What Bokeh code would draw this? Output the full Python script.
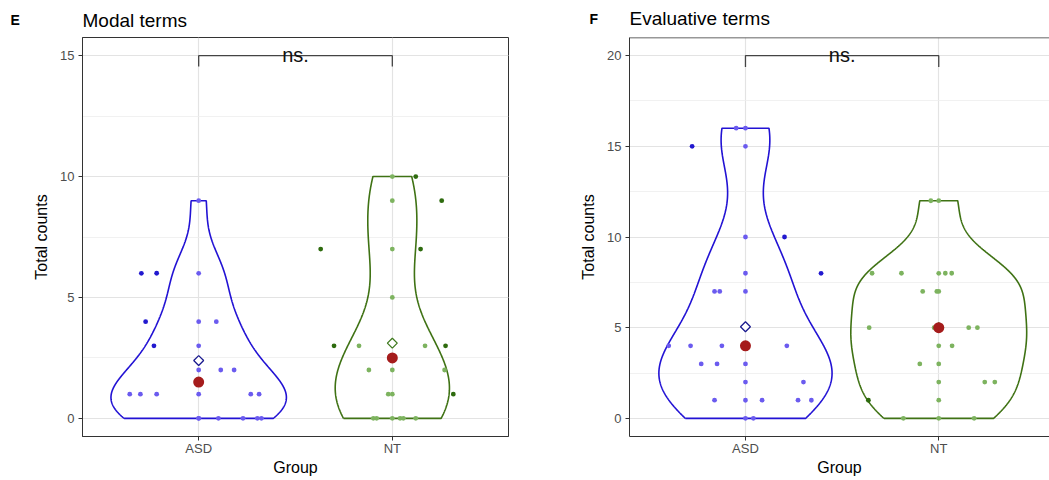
import numpy as np
from bokeh.plotting import figure
from bokeh.layouts import row, column
from bokeh.models import Range1d, FixedTicker, SingleIntervalTicker, Span
from bokeh.embed import file_html
from bokeh.resources import INLINE
from bokeh.core.properties import value

# ---------------- data ----------------
groups = ["ASD", "NT"]
panel_letters = ["E", "F"]
panel_titles = ["Modal terms", "Evaluative terms"]
y_label = "Total counts"
x_label = "Group"
sig_label = "ns."

modal_asd_y = [9, 6, 6, 6, 4, 4, 4, 3, 3, 2, 2, 2, 1, 1, 1, 1, 1, 1, 0, 0, 0, 0, 0, 0]
modal_asd_dx = [0, -0.296, -0.217, 0, -0.274, 0, 0.091, -0.231, 0, 0, 0.114, 0.183,
                -0.356, -0.301, -0.217, 0, 0.269, 0.312, 0, 0.102, 0.229, 0.303, 0.324, 0]
modal_asd_dark = [0, 1, 1, 0, 1, 0, 0, 1, 0, 0, 0, 0, 0, 0, 0, 0, 0, 0, 0, 0, 0, 0, 0, 0]
modal_nt_y = [10, 10, 9, 9, 7, 7, 7, 5, 3, 3, 3, 3, 2, 2, 2, 1, 1, 1, 0, 0, 0, 0, 0, 0]
modal_nt_dx = [0, 0.121, 0, 0.255, -0.370, 0, 0.146, 0, -0.301, -0.172, 0.169, 0.275,
               -0.121, 0, 0.270, -0.021, 0, 0.315, -0.098, -0.081, 0, 0.040, 0.057, 0.121]
modal_nt_dark = [0, 1, 0, 1, 1, 0, 1, 0, 1, 0, 0, 1, 0, 0, 0, 0, 0, 1, 0, 0, 0, 0, 0, 0]
modal_mean = [2.39, 3.11]
modal_median = [1.5, 2.5]

eval_asd_y = [16, 16, 15, 15, 10, 10, 8, 8, 7, 7, 7, 4, 4, 4, 4, 4, 3, 3, 3, 2, 2,
              1, 1, 1, 1, 1, 0, 0]
eval_asd_dx = [-0.048, 0, -0.276, 0, 0, 0.202, 0, 0.391, -0.160, -0.133, 0,
               -0.397, -0.284, -0.122, 0, 0.214, -0.229, -0.147, 0, 0, 0.300,
               -0.160, 0, 0.086, 0.272, 0.341, 0, 0.041]
eval_asd_dark = [0, 0, 1, 0, 0, 1, 0, 1, 0, 0, 0, 0, 0, 0, 0, 0, 0, 0, 0, 0, 0,
                 0, 0, 0, 0, 0, 0, 0]
eval_nt_y = [12, 12, 8, 8, 8, 8, 8, 7, 7, 7, 5, 5, 5, 5, 5, 4, 4, 3, 3, 2, 2, 2, 1, 1, 0, 0, 0]
eval_nt_dx = [-0.041, 0, -0.345, -0.193, 0, 0.034, 0.067, -0.083, -0.010, 0,
              -0.360, -0.024, 0, 0.155, 0.200, 0, 0.069, -0.098, 0, 0, 0.238, 0.290,
              -0.364, 0, -0.183, 0, 0.183]
eval_nt_dark = [0, 0, 0, 0, 0, 0, 0, 0, 0, 0, 0, 0, 0, 0, 0, 0, 0, 0, 0, 0, 0, 0,
                1, 0, 0, 0, 0]
eval_mean = [5.05, 5.0]
eval_median = [4, 5]

bracket_y = [15, 20]

# ---------------- styles ----------------
FONT = "Liberation Sans"
line_cols = ["#2212d4", "#3f7214"]
light_cols = ["#6b5bef", "#7db35f"]
dark_cols = ["#2219cf", "#2e6b0e"]
diamond_cols = ["#1b1b8f", "#3f7a1e"]
RED = "#a51c1c"
HEADER_H = 35


def kde_outline(vals, n=512):
    v = np.asarray(vals, float)
    sd = v.std(ddof=1)
    q75, q25 = np.percentile(v, [75, 25])
    iqr = q75 - q25
    lo = min(sd, iqr / 1.34) if iqr > 0 else sd
    bw = 0.9 * lo * len(v) ** -0.2
    ys = np.linspace(v.min(), v.max(), n)
    d = np.exp(-0.5 * ((ys[:, None] - v[None, :]) / bw) ** 2).sum(1) / (len(v) * bw * np.sqrt(2 * np.pi))
    return ys, d


def make_header(width, letter, letter_x, letter_y, title, title_x, title_y):
    h = figure(width=width, height=HEADER_H, output_backend="svg", toolbar_location=None,
               x_range=Range1d(0, width), y_range=Range1d(HEADER_H, 0),
               x_axis_type=None, y_axis_type=None, min_border=0)
    h.outline_line_color = None
    h.grid.visible = False
    h.background_fill_color = "white"
    h.border_fill_color = "white"
    h.text([letter_x], [letter_y], text=[letter], text_font=value(FONT), text_font_size="14px",
           text_font_style="bold", text_baseline="alphabetic", text_color="black")
    h.text([title_x], [title_y], text=[title], text_font=value(FONT), text_font_size="19px",
           text_baseline="alphabetic", text_color="black")
    return h


def make_panel(ys_list, dxs_list, darks_list, means, medians,
               yr, half_widths, width, bl, br, bt, bb, xr, bracket, drop, outline):
    p = figure(width=width, height=480 - HEADER_H, output_backend="svg", toolbar_location=None,
               x_range=Range1d(*xr), y_range=Range1d(*yr),
               min_border_left=bl, min_border_right=br, min_border_top=bt, min_border_bottom=bb)
    p.background_fill_color = "white"
    p.border_fill_color = "white"
    if outline:
        p.outline_line_color = "#333333"
        p.outline_line_width = 1
    else:
        p.outline_line_color = None
        p.add_layout(Span(location=yr[1], dimension="width", line_color="#333333", line_width=1.5))

    # grids
    p.xgrid.ticker = FixedTicker(ticks=[1, 2])
    p.xgrid.grid_line_color = "#e3e3e3"
    p.xgrid.grid_line_width = 1.2
    p.ygrid.grid_line_color = "#e3e3e3"
    p.ygrid.grid_line_width = 1.2
    p.ygrid.minor_grid_line_color = "#ededed"
    p.ygrid.minor_grid_line_width = 0.8

    # axes
    p.yaxis.ticker = SingleIntervalTicker(interval=5, num_minor_ticks=2)
    p.xaxis.ticker = FixedTicker(ticks=[1, 2])
    p.xaxis.major_label_overrides = {i + 1: g for i, g in enumerate(groups)}
    for ax in (p.xaxis[0], p.yaxis[0]):
        ax.axis_line_color = "#333333"
        ax.major_tick_line_color = "#333333"
        ax.major_tick_out = 4
        ax.major_tick_in = 0
        ax.minor_tick_line_color = None
        ax.major_label_text_font = FONT
        ax.major_label_text_font_size = "13px"
        ax.major_label_text_color = "#4d4d4d"
        ax.axis_label_text_font = FONT
        ax.axis_label_text_font_size = "16px"
        ax.axis_label_text_font_style = "normal"
        ax.axis_label_text_color = "black"
    p.xaxis.axis_label = x_label
    p.yaxis.axis_label = y_label
    p.xaxis.major_label_standoff = 0
    p.xaxis.axis_label_standoff = 0
    p.yaxis.major_label_standoff = 4
    p.yaxis.axis_label_standoff = 7

    for gi in range(2):
        cx = gi + 1
        ys, d = kde_outline(ys_list[gi])
        hw = d / d.max() * half_widths[gi]
        px = np.concatenate([cx - hw, (cx + hw)[::-1], [cx - hw[0]]])
        py = np.concatenate([ys, ys[::-1], [ys[0]]])
        p.line(px, py, line_color=line_cols[gi], line_width=1.6)

    for gi in range(2):
        cx = gi + 1
        xs = [cx + dx for dx in dxs_list[gi]]
        cols = [dark_cols[gi] if dk else light_cols[gi] for dk in darks_list[gi]]
        p.scatter(xs, ys_list[gi], size=4.8, color=cols, line_color=None)

    for gi in range(2):
        cx = gi + 1
        p.scatter([cx], [means[gi]], marker="square", angle=np.pi / 4, size=7,
                  fill_color="white", line_color=diamond_cols[gi], line_width=1.3)
        p.scatter([cx], [medians[gi]], size=11, color=RED, line_color=None)

    # significance bracket
    p.line([1, 1, 2, 2], [bracket - drop, bracket, bracket, bracket - drop],
           line_color="#444444", line_width=1.3)
    p.text([1.5], [bracket], text=[sig_label], text_font=value(FONT), text_font_size="20px",
           text_align="center", text_baseline="alphabetic", y_offset=-1, text_color="#111111")
    return p


h1 = make_header(560, panel_letters[0], 10, 19, panel_titles[0], 82, 19.5)
h2 = make_header(489, panel_letters[1], 29, 18, panel_titles[1], 69, 17.5)

p1 = make_panel([modal_asd_y, modal_nt_y], [modal_asd_dx, modal_nt_dx],
                [modal_asd_dark, modal_nt_dark], modal_mean, modal_median,
                (-0.75, 15.75), [0.453, 0.295], 560, 82, 52, 2, 42, (0.4, 2.6),
                bracket_y[0], 0.45, True)
p2 = make_panel([eval_asd_y, eval_nt_y], [eval_asd_dx, eval_nt_dx],
                [eval_asd_dark, eval_nt_dark], eval_mean, eval_median,
                (-1, 21), [0.448, 0.455], 489, 69, 0, 0, 44, (0.4, 2.573),
                bracket_y[1], 0.63, False)

layout = column(row(h1, h2), row(p1, p2))
open("out.html", "w").write(file_html(layout, INLINE))
